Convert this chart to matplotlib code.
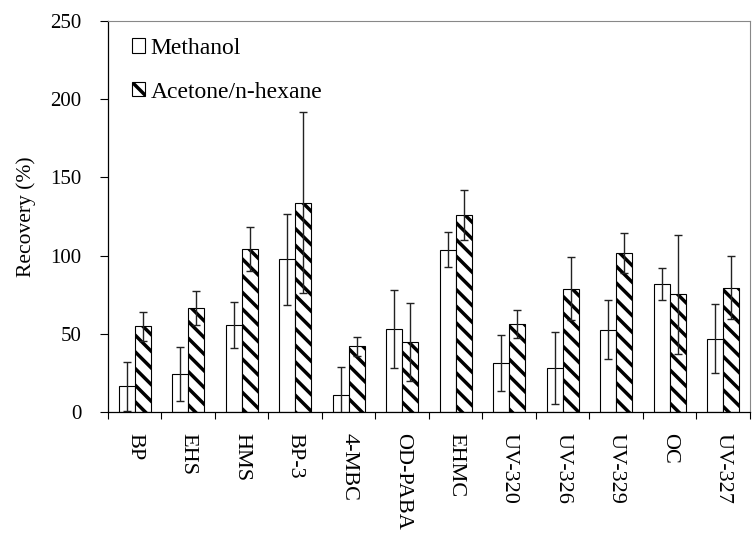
import numpy as np
import matplotlib
matplotlib.use("Agg")
import matplotlib.pyplot as plt

plt.rcParams['font.family'] = ['Liberation Serif', 'DejaVu Serif']
plt.rcParams['hatch.linewidth'] = 2.5

compounds = ['BP', 'EHS', 'HMS', 'BP-3', '4-MBC', 'OD-PABA', 'EHMC',
             'UV-320', 'UV-326', 'UV-329', 'OC', 'UV-327']
methanol = [16.4, 24.3, 55.6, 97.6, 10.7, 52.9, 103.8, 31.3, 27.9, 52.6, 81.8, 46.9]
methanol_err = [15.6, 17.0, 15.0, 29.0, 18.0, 25.0, 11.0, 18.0, 23.0, 19.0, 10.0, 22.0]
acetone = [54.8, 66.3, 104.4, 133.8, 42.0, 44.8, 125.8, 56.0, 78.9, 101.7, 75.3, 79.5]
acetone_err = [9.2, 11.0, 14.0, 58.0, 6.0, 25.0, 16.0, 9.0, 20.0, 13.0, 38.0, 20.0]

fig = plt.figure(figsize=(7.52, 5.34), dpi=100)
ax = fig.add_axes([0.1436, 0.2285, 0.8537, 0.7322])

x = np.arange(len(compounds))
w = 0.3
ax.bar(x - w / 2, methanol, w, color='white', edgecolor='black', linewidth=0.8,
       label='Methanol')
ax.bar(x + w / 2, acetone, w, color='white', edgecolor='black', linewidth=0.8,
       hatch='\\\\', label='Acetone/n-hexane')
ax.errorbar(x - w / 2, methanol, yerr=methanol_err, fmt='none', ecolor='#222222',
            elinewidth=1.0, capsize=3, capthick=1.0)
ax.errorbar(x + w / 2, acetone, yerr=acetone_err, fmt='none', ecolor='#222222',
            elinewidth=1.0, capsize=3, capthick=1.0)

ax.set_xlim(-0.5, len(compounds) - 0.5)
ax.set_ylim(0, 250)
ax.set_yticks(np.arange(0, 251, 50))
ax.tick_params(axis='y', direction='out', length=6, labelsize=15, width=0.8, pad=13)

# category boundaries as ticks, names in between
ax.set_xticks(np.arange(-0.5, len(compounds), 1))
ax.set_xticklabels([])
ax.tick_params(axis='x', which='major', direction='out', length=5, width=0.8)
ax.set_xticks(x, minor=True)
ax.set_xticklabels(compounds, minor=True, rotation=-90, fontsize=16)
ax.tick_params(axis='x', which='minor', length=0, pad=15)

ax.set_ylabel('Recovery (%)', fontsize=15.5, labelpad=10)
for s in ['top', 'right']:
    ax.spines[s].set_color('#888888')
ax.spines['left'].set_linewidth(0.9)
ax.spines['bottom'].set_linewidth(0.9)

ax.legend(loc='upper left', bbox_to_anchor=(0.037, 0.957), frameon=False, fontsize=17,
          borderaxespad=0, borderpad=0,
          handlelength=0.55, handleheight=0.55, handletextpad=0.25, labelspacing=0.97)

fig.savefig('out.png', dpi=100)
